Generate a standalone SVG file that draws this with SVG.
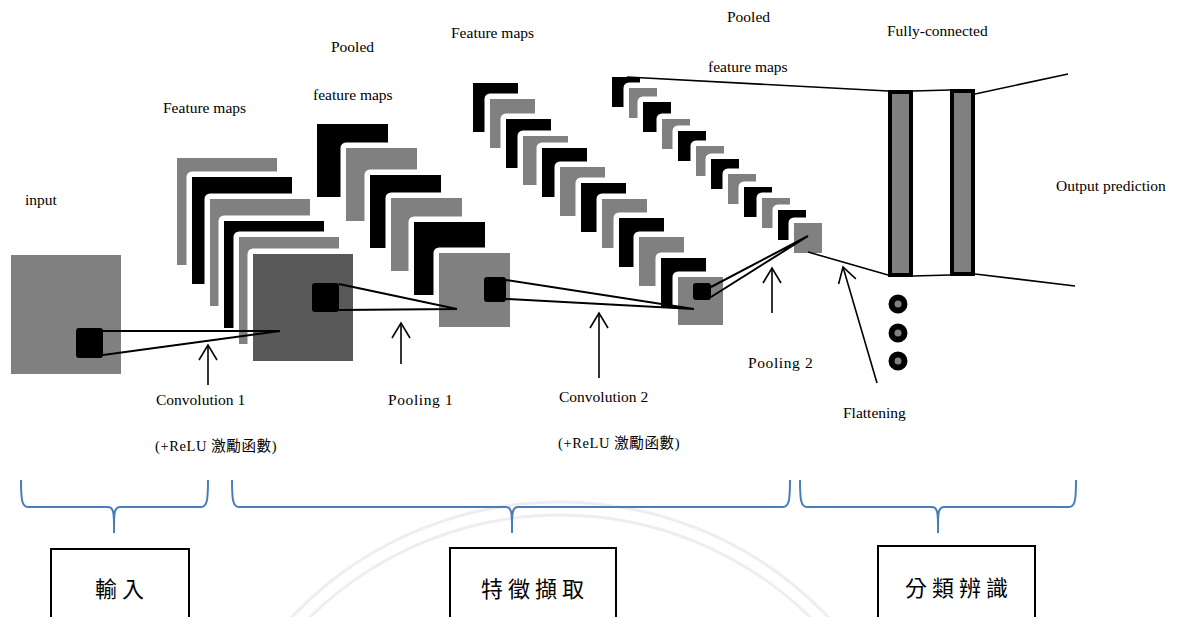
<svg xmlns="http://www.w3.org/2000/svg" width="1180" height="617" viewBox="0 0 1180 617">
<style>
.t{font-family:"Liberation Serif","Noto Sans CJK TC",serif;font-size:15.5px;fill:#000}
.c{font-family:"Liberation Serif","Noto Sans CJK TC",serif;font-size:14.5px;letter-spacing:0.6px;fill:#000}
.big{font-family:"Noto Sans CJK TC",serif;font-size:22px;fill:#000;letter-spacing:5px;text-anchor:middle}
.fm{stroke:#fff;stroke-width:11;paint-order:stroke;stroke-linejoin:round}
.g{fill:#808080}.b{fill:#000}.d{fill:#595959}
.k{fill:#000;rx:3px}
.ln{stroke:#000;stroke-width:2;fill:none}
.ln2{stroke:#000;stroke-width:1.6;fill:none}
.ar{stroke:#000;stroke-width:1.6;fill:none;marker-end:url(#open)}
.br{stroke:#4A7EBB;stroke-width:2;fill:none}
.box{fill:#fff;stroke:#000;stroke-width:2}
.fc{fill:#808080;stroke:#000;stroke-width:4}
.dot{fill:#808080;stroke:#000;stroke-width:6}
.wm{fill:none;stroke:#eeeeee;stroke-width:3}
</style>
<defs>
<marker id="open" viewBox="-17 -11 19 22" refX="0" refY="0" markerWidth="19" markerHeight="22" markerUnits="userSpaceOnUse" orient="auto">
<path d="M-15,-9 L0,0 L-15,9" fill="none" stroke="#000" stroke-width="1.6"/>
</marker>
</defs>
<rect width="1180" height="617" fill="#fff"/>
<g id="watermark">
<circle class="wm" cx="560" cy="872" r="370"/>
<circle class="wm" cx="560" cy="872" r="357"/>
</g>

<g id="input">
<rect class="g" x="11" y="255" width="110" height="119"/>
<rect class="k" x="76" y="328" width="27" height="30"/>
<text class="t" x="25" y="205">input</text>
</g>

<g id="conv1-maps">
<rect class="fm g" x="177" y="158" width="100" height="107"/>
<rect class="fm b" x="192" y="177" width="100" height="107"/>
<rect class="fm g" x="210" y="199" width="100" height="107"/>
<rect class="fm b" x="224" y="221" width="100" height="107"/>
<rect class="fm g" x="239" y="237" width="100" height="107"/>
<rect class="fm d" x="253" y="254" width="100" height="107"/>
<rect class="k" x="312" y="283" width="27" height="29"/>
<text class="t" x="163" y="113">Feature maps</text>
</g>

<g id="pool1-maps">
<rect class="fm b" x="317" y="124" width="71" height="73"/>
<rect class="fm g" x="346" y="148" width="71" height="73"/>
<rect class="fm b" x="370" y="175" width="71" height="73"/>
<rect class="fm g" x="391" y="198" width="71" height="73"/>
<rect class="fm b" x="414" y="222" width="71" height="73"/>
<rect class="fm g" x="439" y="253" width="71" height="74"/>
<rect class="k" x="484" y="277" width="22" height="25"/>
<text class="t" x="331" y="52">Pooled</text>
<text class="t" x="313" y="100">feature maps</text>
</g>

<g id="conv2-maps">
<rect class="fm b" x="473" y="83" width="45" height="49"/>
<rect class="fm g" x="490" y="99" width="45" height="49"/>
<rect class="fm b" x="506" y="119" width="45" height="49"/>
<rect class="fm g" x="523" y="136" width="45" height="49"/>
<rect class="fm b" x="542" y="148" width="45" height="49"/>
<rect class="fm g" x="560" y="167" width="45" height="49"/>
<rect class="fm b" x="581" y="183" width="45" height="49"/>
<rect class="fm g" x="602" y="199" width="45" height="49"/>
<rect class="fm b" x="619" y="218" width="45" height="49"/>
<rect class="fm g" x="639" y="237" width="45" height="49"/>
<rect class="fm b" x="661" y="258" width="45" height="49"/>
<rect class="fm g" x="678" y="277" width="45" height="48"/>
<rect class="k" x="693" y="283" width="18" height="17"/>
<text class="t" x="451" y="38">Feature maps</text>
</g>

<g id="pool2-maps">
<rect class="fm b" x="612" y="77" width="28" height="30"/>
<rect class="fm g" x="629" y="88" width="28" height="30"/>
<rect class="fm b" x="643" y="102" width="28" height="30"/>
<rect class="fm g" x="662" y="119" width="28" height="30"/>
<rect class="fm b" x="678" y="131" width="28" height="30"/>
<rect class="fm g" x="696" y="146" width="28" height="30"/>
<rect class="fm b" x="711" y="159" width="28" height="30"/>
<rect class="fm g" x="728" y="174" width="28" height="30"/>
<rect class="fm b" x="744" y="187" width="28" height="30"/>
<rect class="fm g" x="762" y="198" width="28" height="30"/>
<rect class="fm b" x="778" y="210" width="28" height="30"/>
<rect class="fm g" x="794" y="223" width="28" height="30"/>
<text class="t" x="727" y="22">Pooled</text>
<text class="t" x="708" y="72">feature maps</text>
</g>

<g id="fully-connected">
<rect class="fc" x="890" y="92" width="21" height="183"/>
<rect class="fc" x="952" y="91" width="21" height="183"/>
<circle class="dot" cx="898" cy="304" r="6.5"/>
<circle class="dot" cx="898" cy="333" r="6.5"/>
<circle class="dot" cx="898" cy="361" r="6.5"/>
<text class="t" x="887" y="36">Fully-connected</text>
</g>

<g id="output">
<text class="t" x="1056" y="191">Output prediction</text>
</g>

<g id="connectors">
<path class="ln" d="M103,331 L280,331 M103,355 L280,331"/>
<path class="ln" d="M339,284 L457,309 M339,310 L457,309"/>
<path class="ln" d="M506,280 L694,309 M506,299 L694,309"/>
<path class="ln" d="M711,287 L808,236 M711,297 L808,236"/>
<path class="ln2" d="M627,77 L888,91 M808,252 L888,275"/>
<path class="ln2" d="M913,91 L950,90 M913,276 L950,275"/>
<path class="ln2" d="M975,94 L1068,74 M975,274 L1075,286"/>
<line class="ar" x1="208" y1="385" x2="208" y2="345"/>
<line class="ar" x1="401" y1="364" x2="401" y2="323"/>
<line class="ar" x1="599" y1="378" x2="599" y2="313"/>
<line class="ar" x1="772" y1="313" x2="772" y2="268"/>
<line class="ar" x1="877" y1="383" x2="843" y2="267"/>
</g>

<g id="step-labels">
<text class="t" x="156" y="405">Convolution 1</text>
<text class="c" x="155" y="451">(+ReLU 激勵函數)</text>
<text class="t" x="388" y="405" letter-spacing="0.6">Pooling 1</text>
<text class="t" x="559" y="402">Convolution 2</text>
<text class="c" x="558" y="448">(+ReLU 激勵函數)</text>
<text class="t" x="748" y="368" letter-spacing="0.6">Pooling 2</text>
<text class="t" x="843" y="418">Flattening</text>
</g>

<g id="brace-input">
<path class="br" d="M21,480 C21,500 22,507 28,507 L108,507 C113,507 114,512 114,525 L114,533 M114,525 C114,512 115,507 120,507 L201,507 C207,507 208,500 208,480"/>
</g>
<g id="brace-feature">
<path class="br" d="M232,480 C232,500 233,507 239,507 L506,507 C511,507 512,512 512,525 L512,533 M512,525 C512,512 513,507 518,507 L783,507 C789,507 790,500 790,480"/>
</g>
<g id="brace-classify">
<path class="br" d="M800,480 C800,500 801,507 807,507 L932,507 C937,507 938,512 938,525 L938,533 M938,525 C938,512 939,507 944,507 L1069,507 C1075,507 1076,500 1076,480"/>
</g>

<g id="box-input">
<rect class="box" x="51" y="549" width="138" height="80"/>
<text class="big" x="122" y="597">輸入</text>
</g>
<g id="box-feature">
<rect class="box" x="450" y="548" width="166" height="80"/>
<text class="big" x="535" y="597">特徵擷取</text>
</g>
<g id="box-classify">
<rect class="box" x="878" y="546" width="157" height="80"/>
<text class="big" x="959" y="596">分類辨識</text>
</g>
</svg>
